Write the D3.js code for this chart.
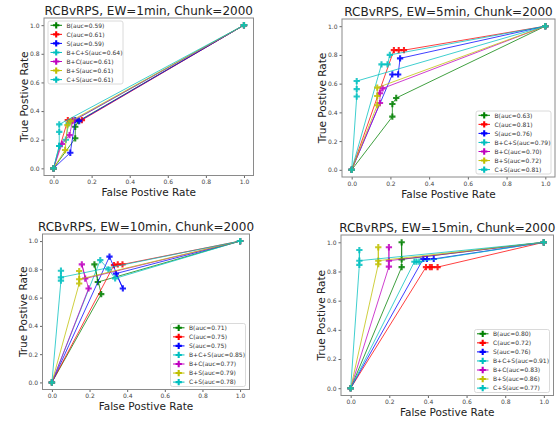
<!DOCTYPE html>
<html>
<head>
<meta charset="utf-8">
<script src="https://cdn.jsdelivr.net/npm/d3@7"></script>
<style>
  body { margin: 0; background: #fff; }
  text { font-family: "DejaVu Sans", sans-serif; }
</style>
</head>
<body>
<svg id="svg" width="559" height="421"></svg>
<script>
var seriesNames = ["B", "C", "S", "B+C+S", "B+C", "B+S", "C+S"];
var seriesColors = ["#008000", "#ff0000", "#0000ff", "#00bfbf", "#bf00bf", "#bfbf00", "#00bfbf"];
var windows = ["1min", "5min", "10min", "15min"];
var ticks = [0, 0.2, 0.4, 0.6, 0.8, 1.0];

var auc1 = [0.59, 0.61, 0.59, 0.64, 0.61, 0.61, 0.61];
var auc5 = [0.63, 0.81, 0.76, 0.79, 0.70, 0.72, 0.81];
var auc10 = [0.71, 0.75, 0.75, 0.85, 0.77, 0.79, 0.78];
var auc15 = [0.80, 0.72, 0.76, 0.91, 0.83, 0.86, 0.77];

// [fpr, tpr] points for each series
var roc1 = [
  [[0, 0], [0.114, 0.21], [0.114, 0.29], [0.13, 0.33], [1, 1]],
  [[0, 0], [0.075, 0.337], [0.1, 0.337], [0.149, 0.337], [1, 1]],
  [[0, 0], [0.088, 0.109], [0.114, 0.337], [0.135, 0.33], [1, 1]],
  [[0, 0], [0.03, 0.156], [0.065, 0.2], [0.079, 0.314], [1, 1]],
  [[0, 0], [0.044, 0.17], [0.084, 0.232], [0.1, 0.33], [1, 1]],
  [[0, 0], [0.061, 0.128], [0.073, 0.302], [0.09, 0.33], [1, 1]],
  [[0, 0], [0.03, 0.156], [0.03, 0.255], [0.03, 0.307], [1, 1]]
];
var roc5 = [
  [[0, 0], [0.21, 0.37], [0.21, 0.458], [0.23, 0.5], [1, 1]],
  [[0, 0], [0.218, 0.833], [0.243, 0.833], [0.27, 0.833], [1, 1]],
  [[0, 0], [0.21, 0.664], [0.24, 0.664], [0.25, 0.776], [1, 1]],
  [[0, 0], [0.154, 0.734], [0.185, 0.734], [0.197, 0.8], [1, 1]],
  [[0, 0], [0.146, 0.465], [0.146, 0.533], [0.16, 0.567], [1, 1]],
  [[0, 0], [0.132, 0.45], [0.132, 0.514], [0.132, 0.572], [1, 1]],
  [[0, 0], [0.026, 0.51], [0.026, 0.562], [0.026, 0.618], [1, 1]]
];
var roc10 = [
  [[0, 0], [0.262, 0.625], [0.226, 0.835], [0.244, 0.71], [1, 1]],
  [[0, 0], [0.33, 0.83], [0.35, 0.835], [0.375, 0.835], [1, 1]],
  [[0, 0], [0.306, 0.89], [0.377, 0.665], [0.34, 0.77], [1, 1]],
  [[0, 0], [0.257, 0.865], [0.3, 0.8], [0.336, 0.736], [1, 1]],
  [[0, 0], [0.195, 0.665], [0.159, 0.835], [0.177, 0.735], [1, 1]],
  [[0, 0], [0.145, 0.7], [0.145, 0.788], [0.145, 0.73], [1, 1]],
  [[0, 0], [0.048, 0.72], [0.048, 0.79], [0.048, 0.743], [1, 1]]
];
var roc15 = [
  [[0, 0], [0.264, 0.83], [0.264, 1.0], [0.264, 0.883], [1, 1]],
  [[0, 0], [0.39, 0.83], [0.41, 0.83], [0.42, 0.83], [0.45, 0.83], [1, 1]],
  [[0, 0], [0.376, 0.886], [0.395, 0.886], [0.43, 0.886], [1, 1]],
  [[0, 0], [0.33, 0.867], [0.341, 0.867], [0.355, 0.867], [1, 1]],
  [[0, 0], [0.198, 0.833], [0.198, 0.966], [0.198, 0.874], [1, 1]],
  [[0, 0], [0.143, 0.85], [0.143, 0.966], [0.143, 0.874], [1, 1]],
  [[0, 0], [0.045, 0.845], [0.045, 0.947], [0.045, 0.874], [1, 1]]
];

var aucs = [auc1, auc5, auc10, auc15];
var rocs = [roc1, roc5, roc10, roc15];

// frame boxes of the four axes, and where each legend sits
var frames = [
  { l: 44, r: 253.5, t: 18, b: 175.5, legend: "ul" },
  { l: 342, r: 555, t: 19, b: 177, legend: "lr" },
  { l: 42.5, r: 249.5, t: 234, b: 389.5, legend: "lr" },
  { l: 341, r: 553.5, t: 235, b: 395.5, legend: "lr" }
];

var svg = d3.select("#svg");
var marker = d3.symbol().type(d3.symbolCross).size(22);

frames.forEach(function(f, p) {
  var x = d3.scaleLinear().domain([-0.05, 1.05]).range([f.l, f.r]);
  var y = d3.scaleLinear().domain([-0.05, 1.05]).range([f.b, f.t]);
  var g = svg.append("g");

  g.append("g")
    .attr("transform", "translate(0," + f.b + ")")
    .call(d3.axisBottom(x).tickValues(ticks).tickFormat(d3.format(".1f")).tickSize(2.5).tickPadding(2))
    .call(styleAxis);
  g.append("g")
    .attr("transform", "translate(" + f.l + ",0)")
    .call(d3.axisLeft(y).tickValues(ticks).tickFormat(d3.format(".1f")).tickSize(2.5).tickPadding(2))
    .call(styleAxis);

  g.append("rect")
    .attr("x", f.l).attr("y", f.t)
    .attr("width", f.r - f.l).attr("height", f.b - f.t)
    .attr("fill", "none").attr("stroke", "#8a8a8a").attr("stroke-width", 1);

  var line = d3.line().x(function(d) { return x(d[0]); }).y(function(d) { return y(d[1]); });

  rocs[p].forEach(function(pts, i) {
    g.append("path")
      .attr("d", line(pts))
      .attr("fill", "none")
      .attr("stroke", seriesColors[i])
      .attr("stroke-opacity", 0.75)
      .attr("stroke-width", 1);
    g.selectAll(null).data(pts).enter().append("path")
      .attr("d", marker)
      .attr("transform", function(d) { return "translate(" + x(d[0]) + "," + y(d[1]) + ")"; })
      .attr("fill", seriesColors[i])
      .attr("fill-opacity", 0.85);
  });

  var cx = (f.l + f.r) / 2;
  g.append("text")
    .attr("x", cx).attr("y", f.t - 3)
    .attr("text-anchor", "middle")
    .attr("font-size", 12)
    .attr("fill", "#222")
    .text("RCBvRPS, EW=" + windows[p] + ", Chunk=2000");
  g.append("text")
    .attr("x", cx).attr("y", f.b + 20.5)
    .attr("text-anchor", "middle")
    .attr("font-size", 10.5)
    .attr("fill", "#222")
    .text("False Postive Rate");
  g.append("text")
    .attr("transform", "translate(" + (f.l - 16) + "," + ((f.t + f.b) / 2) + ") rotate(-90)")
    .attr("text-anchor", "middle")
    .attr("font-size", 10.5)
    .attr("fill", "#222")
    .text("True Postive Rate");

  // legend
  var lw = 75, lh = 63;
  var lx = f.legend === "ul" ? f.l + 4 : f.r - 4 - lw;
  var ly = f.legend === "ul" ? f.t + 3 : f.b - 3 - lh;
  var leg = g.append("g").attr("transform", "translate(" + lx + "," + ly + ")");
  leg.append("rect")
    .attr("width", lw).attr("height", lh).attr("rx", 2)
    .attr("fill", "#fff").attr("fill-opacity", 0.85)
    .attr("stroke", "#d0d0d0").attr("stroke-width", 0.8);
  seriesNames.forEach(function(name, i) {
    var ry = 4.3 + i * 9.05;
    leg.append("line")
      .attr("x1", 2.5).attr("x2", 14).attr("y1", ry).attr("y2", ry)
      .attr("stroke", seriesColors[i]).attr("stroke-width", 1);
    leg.append("path")
      .attr("d", marker)
      .attr("transform", "translate(8.2," + ry + ")")
      .attr("fill", seriesColors[i]);
    leg.append("text")
      .attr("x", 18.5).attr("y", ry + 2.2)
      .attr("font-size", 6)
      .attr("fill", "#333")
      .text(name + "(auc=" + aucs[p][i].toFixed(2) + ")");
  });
});

function styleAxis(sel) {
  sel.select(".domain").remove();
  sel.selectAll(".tick line").attr("stroke", "#666");
  sel.selectAll(".tick text").attr("font-size", 6).attr("fill", "#444").attr("font-family", "DejaVu Sans");
}
</script>
</body>
</html>
